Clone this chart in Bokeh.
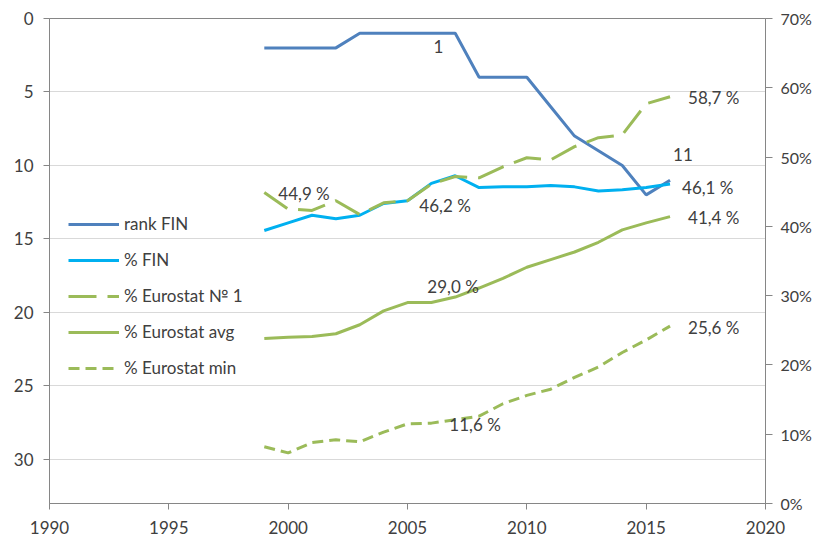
from bokeh.plotting import figure
from bokeh.models import (Range1d, LinearAxis, FixedTicker, PrintfTickFormatter,
                          Legend, LegendItem, ColumnDataSource)
from bokeh.core.properties import value
from bokeh.embed import file_html
from bokeh.resources import INLINE

# ---------------- data ----------------
years = list(range(1999, 2017))
rank_fin = [2, 2, 2, 2, 1, 1, 1, 1, 1, 4, 4, 4, 6, 8, 9, 10, 12, 11]
pct_fin = [39.4, 40.5, 41.6, 41.1, 41.6, 43.3, 43.7, 46.2, 47.3, 45.6, 45.7, 45.7,
           45.9, 45.7, 45.1, 45.3, 45.6, 46.1]
pct_no1 = [44.9, 42.5, 42.3, 43.7, 41.7, 43.4, 43.7, 46.1, 47.2, 47.0, 48.6, 49.9,
           49.6, 51.5, 52.8, 53.2, 57.7, 58.7]
pct_avg = [23.8, 24.0, 24.1, 24.5, 25.8, 27.8, 29.0, 29.0, 29.8, 31.1, 32.5, 34.1,
           35.2, 36.3, 37.7, 39.5, 40.5, 41.4]
pct_min = [8.2, 7.3, 8.8, 9.2, 8.9, 10.3, 11.5, 11.6, 12.1, 12.6, 14.4, 15.6,
           16.5, 18.2, 19.7, 21.8, 23.6, 25.6]

x_ticks = [1990, 1995, 2000, 2005, 2010, 2015, 2020]
rank_ticks = [0, 5, 10, 15, 20, 25, 30]
pct_ticks = [0, 10, 20, 30, 40, 50, 60, 70]

series_names = ["rank FIN", "% FIN", "% Eurostat № 1", "% Eurostat avg", "% Eurostat min"]

# data labels: (series, year, text)
rank_labels = [("rank", 2006, "1"), ("rank", 2016, "11")]
pct_labels = [("no1", 1999, "44,9 %"), ("fin", 2006, "46,2 %"), ("no1", 2016, "58,7 %"),
              ("fin", 2016, "46,1 %"), ("avg", 2016, "41,4 %"), ("avg", 2006, "29,0 %"),
              ("min", 2016, "25,6 %"), ("min", 2006, "11,6 %")]

# ---------------- styling ----------------
FONT = "Lato"
TXT = "#404040"
AXC = "#868686"
C_RANK = "#4F81BD"
C_FIN = "#00B0F0"
C_GREEN = "#9BBB59"

p = figure(width=814, height=537, output_backend="svg", toolbar_location=None,
           x_range=Range1d(1990, 2020), y_range=Range1d(33, 0),
           min_border_left=49, min_border_right=48, min_border_top=18,
           min_border_bottom=34)
p.extra_y_ranges = {"pct": Range1d(0, 70)}
p.outline_line_color = AXC
p.background_fill_color = "white"
p.border_fill_color = "white"

p.xgrid.grid_line_color = None
p.ygrid.grid_line_color = "#D9D9D9"
p.ygrid.ticker = FixedTicker(ticks=rank_ticks)

for ax in (p.xaxis[0], p.yaxis[0]):
    ax.axis_line_color = AXC
    ax.major_tick_line_color = AXC
    ax.major_tick_in = 0
    ax.major_tick_out = 6
    ax.minor_tick_line_color = None
    ax.major_label_text_font = FONT
    ax.major_label_text_font_size = "17px"
    ax.major_label_text_color = TXT
p.xaxis[0].ticker = FixedTicker(ticks=x_ticks)
p.xaxis[0].major_label_standoff = 11
p.yaxis[0].ticker = FixedTicker(ticks=rank_ticks)
p.yaxis[0].major_label_standoff = 10

ra = LinearAxis(y_range_name="pct", ticker=FixedTicker(ticks=pct_ticks),
                formatter=PrintfTickFormatter(format="%d%%"))
ra.axis_line_color = AXC
ra.major_tick_line_color = AXC
ra.major_tick_in = 0
ra.major_tick_out = 7
ra.minor_tick_line_color = None
ra.major_label_text_font = FONT
ra.major_label_text_font_size = "16px"
ra.major_label_text_color = TXT
ra.major_label_standoff = 8
p.add_layout(ra, "right")

W = 3
r1 = p.line(years, rank_fin, line_color=C_RANK, line_width=W)
r2 = p.line(years, pct_fin, line_color=C_FIN, line_width=W, y_range_name="pct")
r3 = p.line(years, pct_no1, line_color=C_GREEN, line_width=W, line_dash="28 11",
            y_range_name="pct")
r4 = p.line(years, pct_avg, line_color=C_GREEN, line_width=W, y_range_name="pct")
r5 = p.line(years, pct_min, line_color=C_GREEN, line_width=W, line_dash="11 6",
            y_range_name="pct")

# label placement offsets (screen px)
offs = {
    ("rank", 2006): (7, 13, "center"), ("rank", 2016): (3, -26, "left"),
    ("no1", 1999): (14, 1, "left"), ("fin", 2006): (-12, 22, "left"),
    ("no1", 2016): (18, 1, "left"), ("fin", 2016): (12, 3, "left"),
    ("avg", 2016): (18, 1, "left"), ("avg", 2006): (-4, -16, "left"),
    ("min", 2016): (18, 1, "left"), ("min", 2006): (18, 1, "left"),
}
lookup = {"rank": rank_fin, "fin": pct_fin, "no1": pct_no1, "avg": pct_avg, "min": pct_min}


def label_source(labels):
    d = dict(x=[], y=[], text=[], xo=[], yo=[], al=[])
    for s, yr, t in labels:
        xo, yo, al = offs[(s, yr)]
        d["x"].append(yr)
        d["y"].append(lookup[s][years.index(yr)])
        d["text"].append(t)
        d["xo"].append(xo)
        d["yo"].append(yo)
        d["al"].append(al)
    return ColumnDataSource(d)


p.text(x="x", y="y", text="text", x_offset="xo", y_offset="yo", text_align="al",
       text_baseline="middle", text_font=value(FONT), text_font_size="17px",
       text_color=TXT, source=label_source(rank_labels))
p.text(x="x", y="y", text="text", x_offset="xo", y_offset="yo", text_align="al",
       text_baseline="middle", text_font=value(FONT), text_font_size="17px",
       text_color=TXT, source=label_source(pct_labels), y_range_name="pct")

legend = Legend(items=[LegendItem(label=n, renderers=[r]) for n, r in
                       zip(series_names, [r1, r2, r3, r4, r5])],
                location=(19, 125))
legend.label_text_font = FONT
legend.label_text_font_size = "17px"
legend.label_text_color = TXT
legend.glyph_width = 51
legend.glyph_height = 20
legend.label_height = 20
legend.spacing = 15
legend.padding = 0
legend.margin = 0
legend.label_standoff = 5
legend.border_line_color = None
legend.background_fill_alpha = 0
p.add_layout(legend)

open("out.html", "w").write(file_html(p, INLINE))
